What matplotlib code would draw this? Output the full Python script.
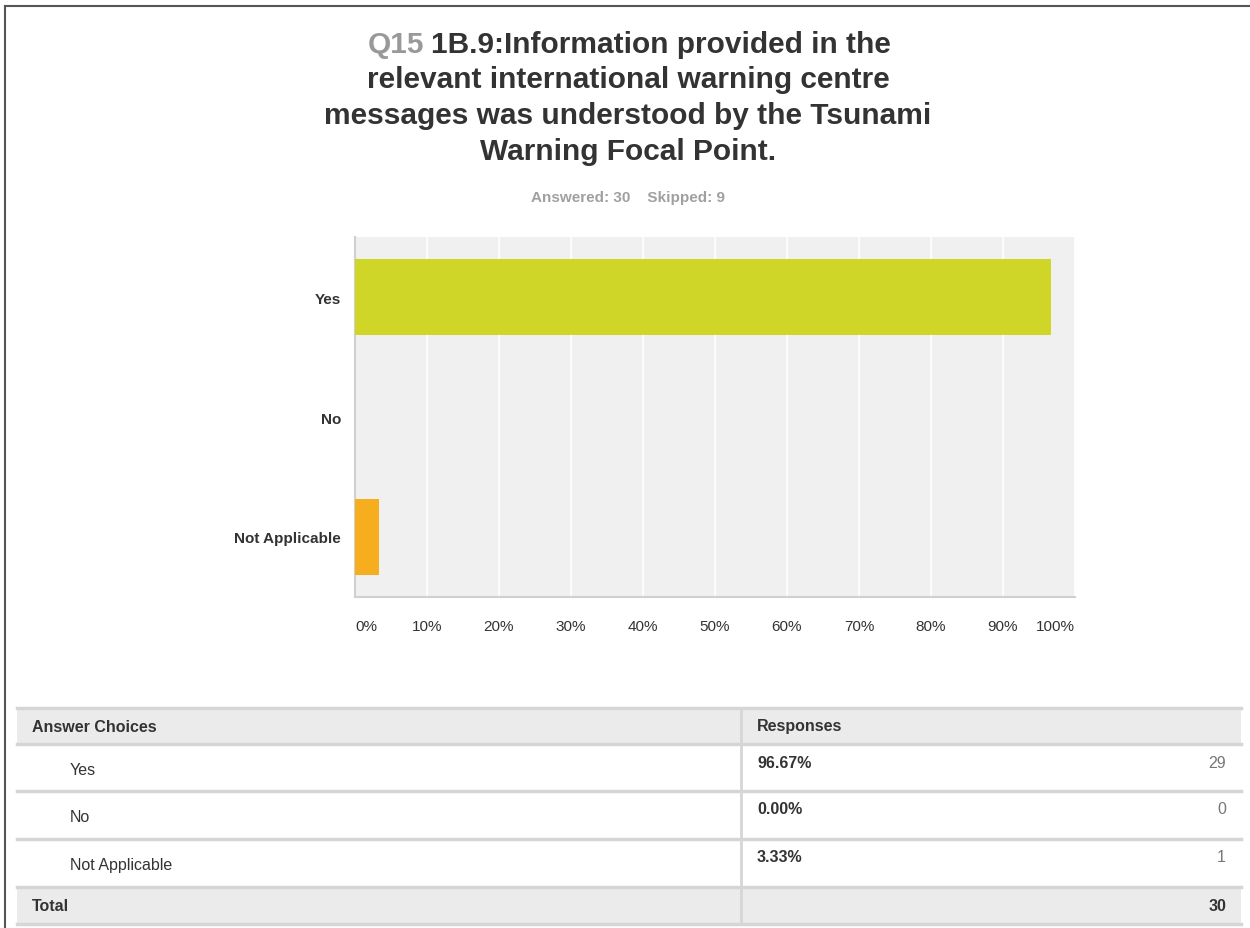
import matplotlib
matplotlib.use("Agg")
import matplotlib.pyplot as plt
import matplotlib.patches as mpatches

plt.rcParams["font.family"] = ["Liberation Sans", "DejaVu Sans"]

# ── Data ──────────────────────────────────────────────────────────────────────
categories = ["Yes", "No", "Not Applicable"]
percent    = [96.67, 0.00, 3.33]
counts     = [29, 0, 1]
total      = 30
answered   = 30
skipped    = 9
bar_colors = ["#cfd628", "#cfd628", "#f6ae1f"]
x_ticks    = [0, 10, 20, 30, 40, 50, 60, 70, 80, 90, 100]

W, H = 1250, 929
fig = plt.figure(figsize=(W / 100, H / 100), dpi=100)
fig.patch.set_facecolor("white")

# ── Bar chart ─────────────────────────────────────────────────────────────────
ax = fig.add_axes([355 / W, 1 - 598 / H, 720 / W, 360 / H])
ax.set_facecolor("#f0f0f0")
ypos = list(range(len(categories)))
ax.barh(ypos, percent, height=0.63, color=bar_colors, zorder=3)
ax.set_xlim(0, 100)
ax.set_ylim(len(categories) - 0.5, -0.5)
ax.set_yticks(ypos)
ax.set_yticklabels(categories, fontsize=11, fontweight="bold", color="#333333")
ax.set_xticks(x_ticks)
ax.set_xticklabels([f"{t}%" for t in x_ticks], fontsize=11, color="#333333")
labs = ax.get_xticklabels()
labs[0].set_horizontalalignment("left")
labs[-1].set_horizontalalignment("right")
ax.tick_params(axis="both", length=0)
ax.tick_params(axis="x", pad=16)
ax.tick_params(axis="y", pad=10)
ax.grid(axis="x", color="white", linewidth=1.2, zorder=1)
for s in ["top", "right"]:
    ax.spines[s].set_visible(False)
for s in ["left", "bottom"]:
    ax.spines[s].set_color("#d0d0d0")
    ax.spines[s].set_linewidth(1.5)

# ── Overlay in pixel coords for title, table and frame ───────────────────────
ov = fig.add_axes([0, 0, 1, 1], zorder=-1)
ov.set_xlim(0, W)
ov.set_ylim(H, 0)
ov.axis("off")

title_kw = dict(fontsize=21.5, fontweight="bold", va="center")
ov.text(424, 45, "Q15", color="#999999", ha="right", **title_kw)
ov.text(431, 45, "1B.9:Information provided in the", color="#333333", ha="left", **title_kw)
ov.text(628, 80, "relevant international warning centre", color="#333333", ha="center", **title_kw)
ov.text(628, 116, "messages was understood by the Tsunami", color="#333333", ha="center", **title_kw)
ov.text(628, 152, "Warning Focal Point.", color="#333333", ha="center", **title_kw)
ov.text(628, 198, f"Answered: {answered}    Skipped: {skipped}", color="#a0a0a0",
        ha="center", va="center", fontsize=11, fontweight="bold")

# frame lines
ov.plot([5, W], [7, 7], color="#555555", linewidth=1.5)
ov.plot([5, 5], [7, H], color="#555555", linewidth=1.5)

# table
tx0, tx1, tdiv = 17, 1241, 741
rows_y = [709, 745, 792, 840, 888, 925]
grey_bg = "#ebebeb"
line_c = "#d6d6d6"
ov.add_patch(mpatches.Rectangle((tx0, rows_y[0]), tx1 - tx0, rows_y[1] - rows_y[0],
                                facecolor=grey_bg, edgecolor="none"))
ov.add_patch(mpatches.Rectangle((tx0, rows_y[4]), tx1 - tx0, rows_y[5] - rows_y[4],
                                facecolor=grey_bg, edgecolor="none"))
for y in rows_y:
    ov.plot([tx0, tx1], [y, y], color=line_c, linewidth=2.5)
ov.plot([tdiv, tdiv], [rows_y[0], rows_y[5]], color=line_c, linewidth=2)

hdr = dict(fontsize=11.5, fontweight="bold", color="#333333", va="center")
ov.text(32, 727, "Answer Choices", ha="left", **hdr)
ov.text(757, 727, "Responses", ha="left", **hdr)

for i, (cat, p, c) in enumerate(zip(categories, percent, counts)):
    top = rows_y[i + 1]
    ov.text(70, top + 26, cat, ha="left", va="center", fontsize=11.5, color="#333333")
    ov.text(757, top + 18, f"{p:.2f}%", ha="left", va="center", fontsize=11.5,
            fontweight="bold", color="#333333")
    ov.text(1226, top + 18, str(c), ha="right", va="center", fontsize=11.5, color="#777777")

ov.text(32, 907, "Total", ha="left", **hdr)
ov.text(1226, 907, str(total), ha="right", **hdr)

fig.savefig("out.png", dpi=100)
